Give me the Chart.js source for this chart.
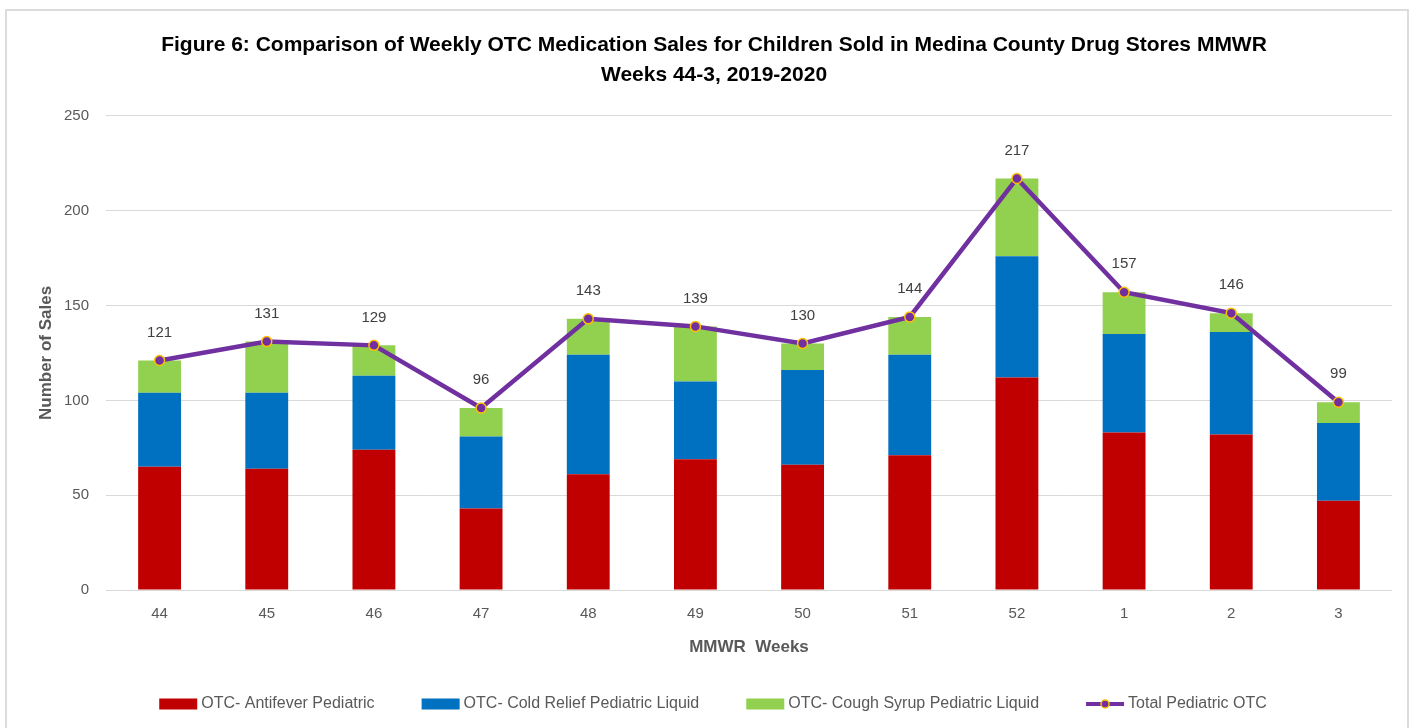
<!DOCTYPE html>
<html>
<head>
<meta charset="utf-8">
<script src="https://cdn.jsdelivr.net/npm/chart.js@4/dist/chart.umd.min.js"></script>
<style>
  html, body { margin: 0; padding: 0; background: #ffffff; }
  #wrap { position: relative; width: 1416px; height: 728px; overflow: hidden; }
  #frame { position: absolute; left: 5px; top: 9px; width: 1404px; height: 740px; border: 2px solid #dcdcdc; box-sizing: border-box; pointer-events: none; }
  canvas { position: absolute; left: 0; top: 0; }
</style>
</head>
<body>
<div id="wrap">
  <canvas id="chart" width="1416" height="728"></canvas>
  <div id="frame"></div>
</div>
<script>
const weeks = ["44", "45", "46", "47", "48", "49", "50", "51", "52", "1", "2", "3"];
const antifever = [65, 64, 74, 43, 61, 69, 66, 71, 112, 83, 82, 47];
const coldRelief = [39, 40, 39, 38, 63, 41, 50, 53, 64, 52, 54, 41];
const coughSyrup = [17, 27, 16, 15, 19, 29, 14, 20, 41, 22, 10, 11];
const totalOtc = [121, 131, 129, 96, 143, 139, 130, 144, 217, 157, 146, 99];
const yTicks = [0, 50, 100, 150, 200, 250];

const FONT = "'Liberation Sans', 'DejaVu Sans', sans-serif";
const GREY = "#595959";

// value labels above the total line
const pointLabels = {
  id: "pointLabels",
  afterDatasetsDraw(chart) {
    const ctx = chart.ctx;
    const meta = chart.getDatasetMeta(3);
    ctx.save();
    ctx.font = "15px " + FONT;
    ctx.fillStyle = "#404040";
    ctx.textAlign = "center";
    ctx.textBaseline = "middle";
    meta.data.forEach(function(pt, i) {
      ctx.fillText(String(totalOtc[i]), pt.x, pt.y - 28);
    });
    ctx.restore();
  }
};

// bottom legend, spaced like the original
const bottomLegend = {
  id: "bottomLegend",
  afterDraw(chart) {
    const ctx = chart.ctx;
    const items = chart.data.datasets.map(function(ds) {
      return { text: ds.label, type: ds.type || "bar", color: ds.backgroundColor };
    });
    const boxW = 38, boxH = 11, textGap = 4, itemGap = 47, y = 704;
    ctx.save();
    ctx.font = "16px " + FONT;
    let total = 0;
    items.forEach(function(it) {
      it.w = boxW + textGap + ctx.measureText(it.text).width;
      total += it.w;
    });
    total += itemGap * (items.length - 1);
    let x = 713 - total / 2;
    items.forEach(function(it) {
      if (it.type === "line") {
        ctx.strokeStyle = "#7030A0";
        ctx.lineWidth = 4;
        ctx.beginPath();
        ctx.moveTo(x, y);
        ctx.lineTo(x + boxW, y);
        ctx.stroke();
        ctx.beginPath();
        ctx.arc(x + boxW / 2, y, 4, 0, Math.PI * 2);
        ctx.fillStyle = "#7030A0";
        ctx.fill();
        ctx.lineWidth = 1.5;
        ctx.strokeStyle = "#FFC000";
        ctx.stroke();
      } else {
        ctx.fillStyle = it.color;
        ctx.fillRect(x, y - boxH / 2, boxW, boxH);
      }
      ctx.fillStyle = GREY;
      ctx.textAlign = "left";
      ctx.textBaseline = "middle";
      ctx.fillText(it.text, x + boxW + textGap, y);
      x += it.w + itemGap;
    });
    ctx.restore();
  }
};

const barOpts = { stack: "s", barPercentage: 0.8, categoryPercentage: 0.5, borderWidth: 0, order: 2 };

new Chart(document.getElementById("chart").getContext("2d"), {
  type: "bar",
  data: {
    labels: weeks,
    datasets: [
      Object.assign({ label: "OTC- Antifever Pediatric", data: antifever, backgroundColor: "#C00000" }, barOpts),
      Object.assign({ label: "OTC- Cold Relief Pediatric Liquid", data: coldRelief, backgroundColor: "#0070C0" }, barOpts),
      Object.assign({ label: "OTC- Cough Syrup Pediatric Liquid", data: coughSyrup, backgroundColor: "#92D050" }, barOpts),
      {
        type: "line",
        label: "Total Pediatric OTC",
        data: totalOtc,
        borderColor: "#7030A0",
        backgroundColor: "#7030A0",
        borderWidth: 4.5,
        pointRadius: 5,
        pointBackgroundColor: "#7030A0",
        pointBorderColor: "#FFC000",
        pointBorderWidth: 1.5,
        tension: 0,
        order: 1
      }
    ]
  },
  options: {
    responsive: false,
    animation: false,
    layout: { padding: { left: 36, right: 24, top: 15, bottom: 70 } },
    scales: {
      x: {
        stacked: true,
        afterFit: function(scale) { scale.height = 68; },
        grid: { display: false, drawTicks: false },
        border: { display: false },
        ticks: { color: GREY, font: { family: FONT, size: 15 }, padding: 15 },
        title: { display: true, text: "MMWR  Weeks", color: GREY, font: { family: FONT, size: 17, weight: "bold" }, padding: { top: 0, bottom: 0 } }
      },
      y: {
        stacked: true,
        min: 0,
        max: 250,
        afterBuildTicks: function(scale) {
          scale.ticks = yTicks.map(function(v) { return { value: v }; });
        },
        afterFit: function(scale) { scale.width = 70; },
        grid: { color: "#d9d9d9", lineWidth: 1, drawTicks: false },
        border: { display: false },
        ticks: { color: GREY, font: { family: FONT, size: 15 }, padding: 17 },
        title: { display: true, text: "Number of Sales", color: GREY, font: { family: FONT, size: 17, weight: "bold" }, padding: { top: 0, bottom: 0 } }
      }
    },
    plugins: {
      legend: { display: false },
      tooltip: { enabled: false },
      title: {
        display: true,
        text: ["Figure 6: Comparison of Weekly OTC Medication Sales for Children Sold in Medina County Drug Stores MMWR", "Weeks 44-3, 2019-2020"],
        color: "#000000",
        font: { family: FONT, size: 21, weight: "bold", lineHeight: 1.45 },
        padding: { top: 15, bottom: 25 }
      }
    }
  },
  plugins: [pointLabels, bottomLegend]
});
</script>
</body>
</html>
